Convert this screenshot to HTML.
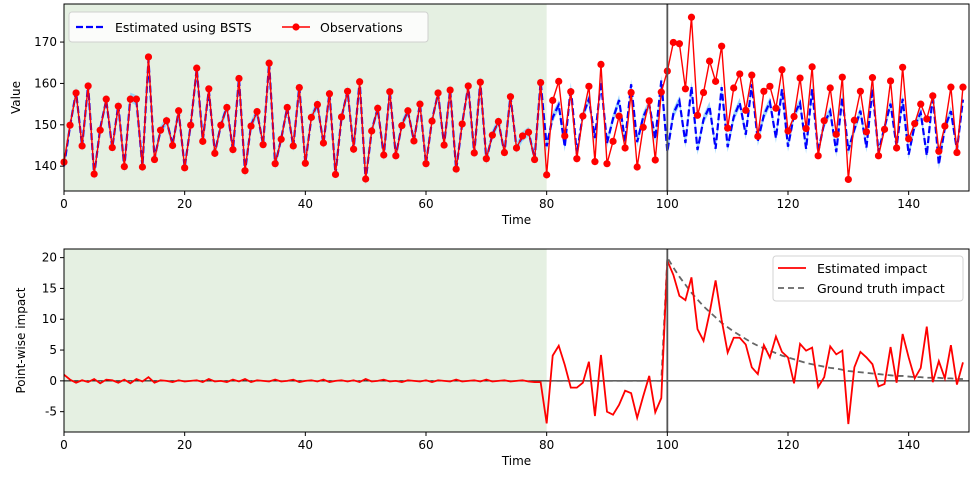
<!DOCTYPE html>
<html><head><meta charset="utf-8"><style>
html,body{margin:0;padding:0;background:#fff;}
svg{display:block;font-family:"DejaVu Sans","Liberation Sans",sans-serif;}
</style></head><body>
<svg id="chart" width="980" height="484" viewBox="0 0 980 484" xmlns="http://www.w3.org/2000/svg"></svg>
<script>
const observations=[141.0,149.9,157.7,144.9,159.4,138.1,148.7,156.2,144.5,154.5,139.9,156.2,156.2,139.8,166.4,141.6,148.7,151.0,145.0,153.4,139.6,149.9,163.7,146.0,158.7,143.1,149.9,154.2,144.0,161.2,138.9,149.7,153.2,145.2,164.9,140.6,146.5,154.2,144.9,159.0,140.7,151.8,154.9,145.6,157.5,138.0,151.9,158.1,144.1,160.4,136.9,148.5,154.0,142.7,158.0,142.5,149.8,153.4,146.1,155.0,140.6,150.9,157.7,145.1,158.4,139.3,150.2,159.4,143.2,160.3,141.8,147.5,150.8,143.3,156.8,144.4,147.3,148.2,141.6,160.2,137.9,155.9,160.5,147.3,158.0,141.8,152.1,159.3,141.1,164.6,140.6,146.0,152.1,144.4,157.8,139.8,149.4,155.8,141.5,157.9,163.0,169.9,169.6,158.7,176.0,152.3,157.8,165.4,160.5,169.0,149.2,158.9,162.3,153.5,162.0,147.2,158.1,159.3,154.0,163.3,148.5,152.0,161.3,149.1,164.0,142.5,151.0,158.9,147.7,161.5,136.8,151.1,158.1,148.3,161.4,142.5,148.9,160.6,144.4,163.9,146.6,150.3,155.0,151.4,157.0,143.6,149.7,159.1,143.3,159.1];
const impact=[1.0,0.2,-0.3,0.1,-0.2,0.3,-0.4,0.2,0.1,-0.3,0.2,-0.4,0.3,-0.1,0.6,-0.3,0.1,0.0,-0.2,0.1,-0.1,0.0,0.1,-0.2,0.3,-0.1,0.0,-0.2,0.2,-0.1,0.3,-0.2,0.1,0.0,-0.1,0.2,-0.1,0.0,0.2,-0.2,0.0,0.1,-0.1,0.2,-0.2,0.0,0.1,-0.1,0.1,-0.2,0.3,-0.1,0.0,0.2,-0.1,0.0,-0.2,0.1,0.0,-0.1,0.1,-0.2,0.1,0.0,-0.1,0.2,-0.1,0.0,0.1,-0.1,0.2,-0.1,0.0,0.1,-0.1,0.0,0.1,-0.1,-0.2,-0.2,-6.9,4.1,5.7,2.6,-1.1,-1.1,-0.3,3.1,-5.7,4.2,-5.0,-5.5,-3.9,-1.6,-2.0,-6.0,-2.5,0.8,-5.1,-2.8,19.5,17.2,13.8,13.1,16.8,8.4,6.5,11.0,16.3,9.9,4.6,7.0,7.0,5.9,2.2,1.1,5.8,3.8,7.2,4.7,3.8,-0.4,6.0,4.9,5.4,-1.0,0.6,5.6,4.3,4.9,-7.0,2.2,4.7,3.8,2.7,-0.9,-0.5,5.5,-0.3,7.6,3.8,0.4,2.1,8.8,-0.2,3.2,0.4,5.8,-0.6,3.0];
const truthStart=80;
const groundTruth=[0,0,0,0,0,0,0,0,0,0,0,0,0,0,0,0,0,0,0,0,20,18.4,16.9,15.6,14.3,13.2,12.1,11.2,10.3,9.4,8.7,8.0,7.4,6.8,6.2,5.7,5.3,4.9,4.5,4.1,3.8,3.5,3.2,2.9,2.7,2.5,2.3,2.1,2.0,1.8,1.6,1.5,1.4,1.3,1.2,1.1,1.0,0.9,0.8,0.8,0.7,0.6,0.6,0.5,0.5,0.5,0.4,0.4,0.3,0.3];
const bandHalf=[1.2];
const xTicks=[0,20,40,60,80,100,120,140];
const yTicksTop=[140,150,160,170];
const yTicksBot=[-5,0,5,10,15,20];
const preEnd=80, intervention=100;

const NS='http://www.w3.org/2000/svg';
const svg=document.getElementById('chart');
function mk(tag,attrs,parent,name,inter){const e=document.createElementNS(NS,tag);for(const k in attrs)e.setAttribute(k,attrs[k]);


(parent||svg).appendChild(e);return e;}
const L=64,R=969;
const xs=v=>L+(v-0)*(R-L)/150;
const T1=4,B1=191, yMin1=134.0,yMax1=179.2;
const y1=v=>B1-(v-yMin1)*(B1-T1)/(yMax1-yMin1);
const T2=249,B2=432, yMin2=-8.3,yMax2=21.4;
const y2=v=>B2-(v-yMin2)*(B2-T2)/(yMax2-yMin2);
const estimate=observations.map((o,i)=>o-impact[i]);

function axes(T,B,ys,ticks,g,pref){
  mk('rect',{x:xs(0),y:T,width:xs(preEnd)-xs(0),height:B-T,fill:'#e5f0e2'},g,pref+'-pre-period-shade');
  return ()=>{
  mk('line',{x1:xs(intervention),x2:xs(intervention),y1:T,y2:B,stroke:'#555',"stroke-width":1.8},g,pref+'-intervention-line');
  mk('rect',{x:L,y:T,width:R-L,height:B-T,fill:'none',stroke:'#000',"stroke-width":1},g,pref+'-frame');
  xTicks.forEach(t=>{mk('line',{x1:xs(t),x2:xs(t),y1:B,y2:B+4,stroke:'#000'},g,pref+'-x-tick');
   const tx=mk('text',{x:xs(t),y:B+17,"text-anchor":"middle","font-size":12},g,pref+'-x-tick-label');tx.textContent=t;});
  ticks.forEach(t=>{mk('line',{x1:L-4,x2:L,y1:ys(t),y2:ys(t),stroke:'#000'},g,pref+'-y-tick');
   const tx=mk('text',{x:L-7,y:ys(t)+4,"text-anchor":"end","font-size":12},g,pref+'-y-tick-label');tx.textContent=t;});
  const xl=mk('text',{x:(L+R)/2,y:B+33,"text-anchor":"middle","font-size":12},g,pref+'-x-axis-title');xl.textContent='Time';
  };
}
// top
const g1=mk('g',{},svg,'top-panel');
const fin1=axes(T1,B1,y1,yTicksTop,g1,'top');
let up=estimate.map((v,i)=>xs(i)+','+y1(v+bandHalf[0])).join(' ');
let dn=estimate.map((v,i)=>xs(i)+','+y1(v-bandHalf[0])).reverse().join(' ');
mk('polygon',{points:up+' '+dn,fill:'#87cefa',opacity:0.8},g1,'estimate-band');
mk('polyline',{points:estimate.map((v,i)=>xs(i)+','+y1(v)).join(' '),fill:'none',stroke:'#0000ff',"stroke-width":2.2,"stroke-dasharray":"7,3"},g1,'estimate-line');
mk('polyline',{points:observations.map((v,i)=>xs(i)+','+y1(v)).join(' '),fill:'none',stroke:'#ff0000',"stroke-width":1.4},g1,'observations-line');
observations.forEach((v,i)=>mk('circle',{cx:xs(i),cy:y1(v),r:3.6,fill:'#ff0000'},g1,'observation-point'));
fin1();
const yl1=mk('text',{x:20,y:(T1+B1)/2,"text-anchor":"middle","font-size":12,transform:`rotate(-90 20 ${(T1+B1)/2})`},g1,'top-y-axis-title');yl1.textContent='Value';
const lg1=mk('g',{},g1,'top-legend');
mk('rect',{x:69,y:12,width:359,height:30,rx:3,fill:'#fff',opacity:0.85,stroke:'#ccc'},lg1,'top-legend-box');
mk('line',{x1:76,x2:104,y1:27,y2:27,stroke:'#0000ff',"stroke-width":2.2,"stroke-dasharray":"7,3"},lg1,'legend-estimate-swatch');
let t=mk('text',{x:115,y:32,"font-size":12.5},lg1,'legend-estimate-label');t.textContent='Estimated using BSTS';
mk('line',{x1:282,x2:310,y1:27,y2:27,stroke:'#ff0000',"stroke-width":1.4},lg1,'legend-observations-swatch');
mk('circle',{cx:296,cy:27,r:3.6,fill:'#ff0000'},lg1,'legend-observations-marker');
t=mk('text',{x:320,y:32,"font-size":12.5},lg1,'legend-observations-label');t.textContent='Observations';
// bottom
const g2=mk('g',{},svg,'bottom-panel');
const fin2=axes(T2,B2,y2,yTicksBot,g2,'bottom');
mk('line',{x1:L,x2:R,y1:y2(0),y2:y2(0),stroke:'#000',"stroke-width":1},g2,'zero-line');
mk('polyline',{points:groundTruth.map((v,i)=>xs(i+truthStart)+','+y2(v)).join(' '),fill:'none',stroke:'#666',"stroke-width":1.8,"stroke-dasharray":"6,4"},g2,'ground-truth-line');
mk('polyline',{points:impact.map((v,i)=>xs(i)+','+y2(v)).join(' '),fill:'none',stroke:'#ff0000',"stroke-width":1.8},g2,'estimated-impact-line');
fin2();
const yl2=mk('text',{x:25,y:(T2+B2)/2,"text-anchor":"middle","font-size":12,transform:`rotate(-90 25 ${(T2+B2)/2})`},g2,'bottom-y-axis-title');yl2.textContent='Point-wise impact';
const lg2=mk('g',{},g2,'bottom-legend');
mk('rect',{x:773,y:256,width:190,height:45,rx:3,fill:'#fff',opacity:0.85,stroke:'#ccc'},lg2,'bottom-legend-box');
mk('line',{x1:778,x2:806,y1:268,y2:268,stroke:'#ff0000',"stroke-width":1.8},lg2,'legend-impact-swatch');
t=mk('text',{x:817,y:273,"font-size":12.5},lg2,'legend-impact-label');t.textContent='Estimated impact';
mk('line',{x1:778,x2:806,y1:288,y2:288,stroke:'#666',"stroke-width":1.8,"stroke-dasharray":"6,4"},lg2,'legend-truth-swatch');
t=mk('text',{x:817,y:293,"font-size":12.5},lg2,'legend-truth-label');t.textContent='Ground truth impact';
</script>
</body></html>
